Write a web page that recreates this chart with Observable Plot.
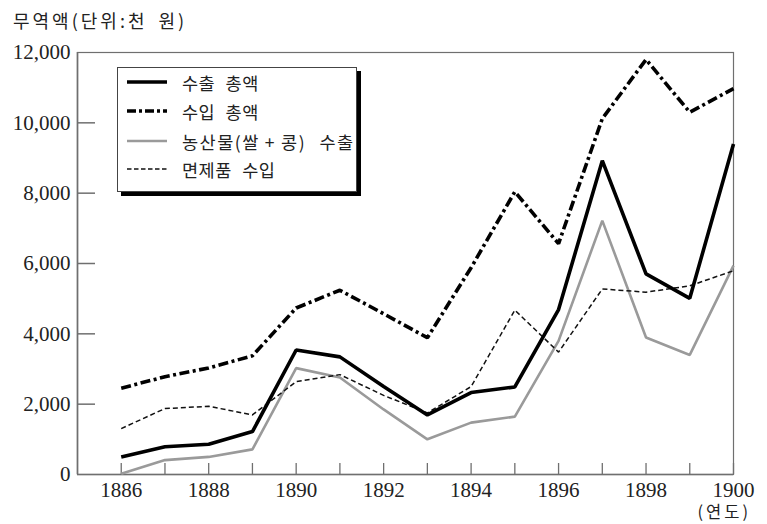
<!DOCTYPE html>
<html>
<head>
<meta charset="utf-8">
<script src="https://cdn.jsdelivr.net/npm/d3@7"></script>
<script src="https://cdn.jsdelivr.net/npm/@observablehq/plot@0.6"></script>
<style>
  html, body { margin: 0; padding: 0; background: #fff; }
  #wrap { position: relative; width: 767px; height: 524px; overflow: hidden; background: #fff; }
  #chart { position: absolute; left: 0; top: 0; z-index: 1; }
  #chart svg { font-size: 21px !important; background: transparent !important; }
  #chart svg text { font-family: "Liberation Serif", Tinos, "Times New Roman", Times, "DejaVu Serif", "Noto Serif", serif !important; }
  .ko { font-family: "Noto Sans CJK KR", "Noto Sans", sans-serif; color: #222; z-index: 2; }
  #title { position: absolute; left: 13px; top: 9px; font-size: 18px; line-height: 22px; letter-spacing: 3px; word-spacing: 4px; white-space: pre; }
  #unitx { position: absolute; right: 16px; top: 502px; font-size: 16.5px; line-height: 18px; letter-spacing: 3px; white-space: pre; }
  #legend { position: absolute; left: 117px; top: 67px; width: 240px; height: 125px; box-sizing: border-box;
            border: 1px solid #444; background: #fff; box-shadow: 4px 4px 0 #000; }
  #legend .row { position: absolute; left: 0; height: 24px; display: flex; align-items: center; }
  #legend svg { margin-left: 9px; margin-right: 15px; flex: none; }
  #legend span { font-size: 17.5px; letter-spacing: 0.5px; word-spacing: 6px; white-space: pre; }
  #legend span.wide { letter-spacing: 1.5px; word-spacing: 8px; }
</style>
</head>
<body>
<div id="wrap">
  <div id="title" class="ko">무역액(단위:천 원)</div>
  <div id="chart"></div>
  <div id="legend" class="ko"></div>
  <div id="unitx" class="ko">(연도)</div>
</div>
<script>
// ---- data (thousand won) ----
const years = [1886, 1887, 1888, 1889, 1890, 1891, 1892, 1893, 1894, 1895, 1896, 1897, 1898, 1899, 1900];
const exportTotal  = [500, 790, 860, 1220, 3540, 3345, 2500, 1695, 2330, 2490, 4690, 8925, 5705, 5010, 9400];
const importTotal  = [2455, 2780, 3030, 3375, 4735, 5240, 4570, 3890, 5880, 8040, 6565, 10120, 11800, 10300, 10975];
const agriExport   = [20, 410, 500, 715, 3025, 2760, 1850, 1000, 1475, 1645, 3800, 7220, 3895, 3400, 5940];
const cottonImport = [1305, 1875, 1940, 1695, 2640, 2840, 2250, 1750, 2500, 4675, 3480, 5275, 5185, 5365, 5795];
const seriesNames = ["수출 총액", "수입 총액", "농산물(쌀\u2009+\u2009콩) 수출", "면제품 수입"];
const yTicks = [0, 2000, 4000, 6000, 8000, 10000, 12000];
const xLabelTicks = [1886, 1888, 1890, 1892, 1894, 1896, 1898, 1900];
const xDomain = [1885, 1900];
const yDomain = [0, 12000];

// ---- styles per series ----
const styles = [
  {stroke: "#000", strokeWidth: 3.6, dash: null},
  {stroke: "#000", strokeWidth: 3.6, dash: "10,3.5,3,3.5"},
  {stroke: "#9a9a9a", strokeWidth: 2.6, dash: null},
  {stroke: "#111", strokeWidth: 1.5, dash: "5,3"}
];
const allSeries = [exportTotal, importTotal, agriExport, cottonImport];
const tables = allSeries.map(vals => years.map((yr, i) => ({year: yr, value: vals[i]})));

const axisColor = "#6f6f6f";
const serif = "Liberation Serif, Tinos, Times New Roman, Times, DejaVu Serif, serif";
const order = [2, 3, 0, 1];

const plot = Plot.plot({
  width: 767,
  height: 524,
  marginLeft: 77,
  marginRight: 34,
  marginTop: 52,
  marginBottom: 50,
  style: "font-family: 'Liberation Serif', Tinos, 'Times New Roman', serif; font-size: 21px;",
  x: {domain: xDomain, label: null},
  y: {domain: yDomain, label: null},
  marks: [
    Plot.frame({stroke: axisColor, strokeWidth: 1.2}),
    Plot.ruleX([xDomain[0]], {stroke: axisColor, strokeWidth: 1.6}),
    Plot.ruleY([0], {stroke: axisColor, strokeWidth: 1.6}),
    Plot.axisY({ticks: yTicks, tickSize: 0, tickPadding: 7, tickFormat: d3.format(","), stroke: "none", fill: "#222", fontFamily: serif, fontSize: 21}),
    Plot.axisY({ticks: yTicks.filter(d => d > 0 && d < 12000), tickSize: -18, fill: "none", stroke: axisColor, strokeWidth: 1.5}),
    Plot.axisX({ticks: years, tickSize: -11, fill: "none", stroke: axisColor, strokeWidth: 1.3}),
    Plot.axisX({ticks: xLabelTicks, tickSize: 0, tickPadding: 7.5, tickFormat: d => String(d), stroke: "none", fill: "#222", fontFamily: serif, fontSize: 21}),
    ...order.map(k => Plot.line(tables[k], {
      x: "year", y: "value",
      stroke: styles[k].stroke, strokeWidth: styles[k].strokeWidth,
      strokeDasharray: styles[k].dash, strokeLinejoin: "miter", strokeLinecap: "butt"
    }))
  ]
});
document.getElementById("chart").appendChild(plot);

// ---- legend ----
const legend = document.getElementById("legend");
const rowTops = [2, 31, 61, 89];
const legendDash = [null, "9,3,3,3", null, "4.5,2.5"];
seriesNames.forEach((name, k) => {
  const row = document.createElement("div");
  row.className = "row";
  row.style.top = rowTops[k] + "px";
  const s = styles[k];
  row.innerHTML =
    `<svg width="40" height="10"><line x1="0" x2="40" y1="5" y2="5" stroke="${s.stroke}" stroke-width="${s.strokeWidth}"` +
    (legendDash[k] ? ` stroke-dasharray="${legendDash[k]}"` : "") + `/></svg><span${k === 2 ? ' class="wide"' : ''}>${name}</span>`;
  legend.appendChild(row);
});
</script>
</body>
</html>
